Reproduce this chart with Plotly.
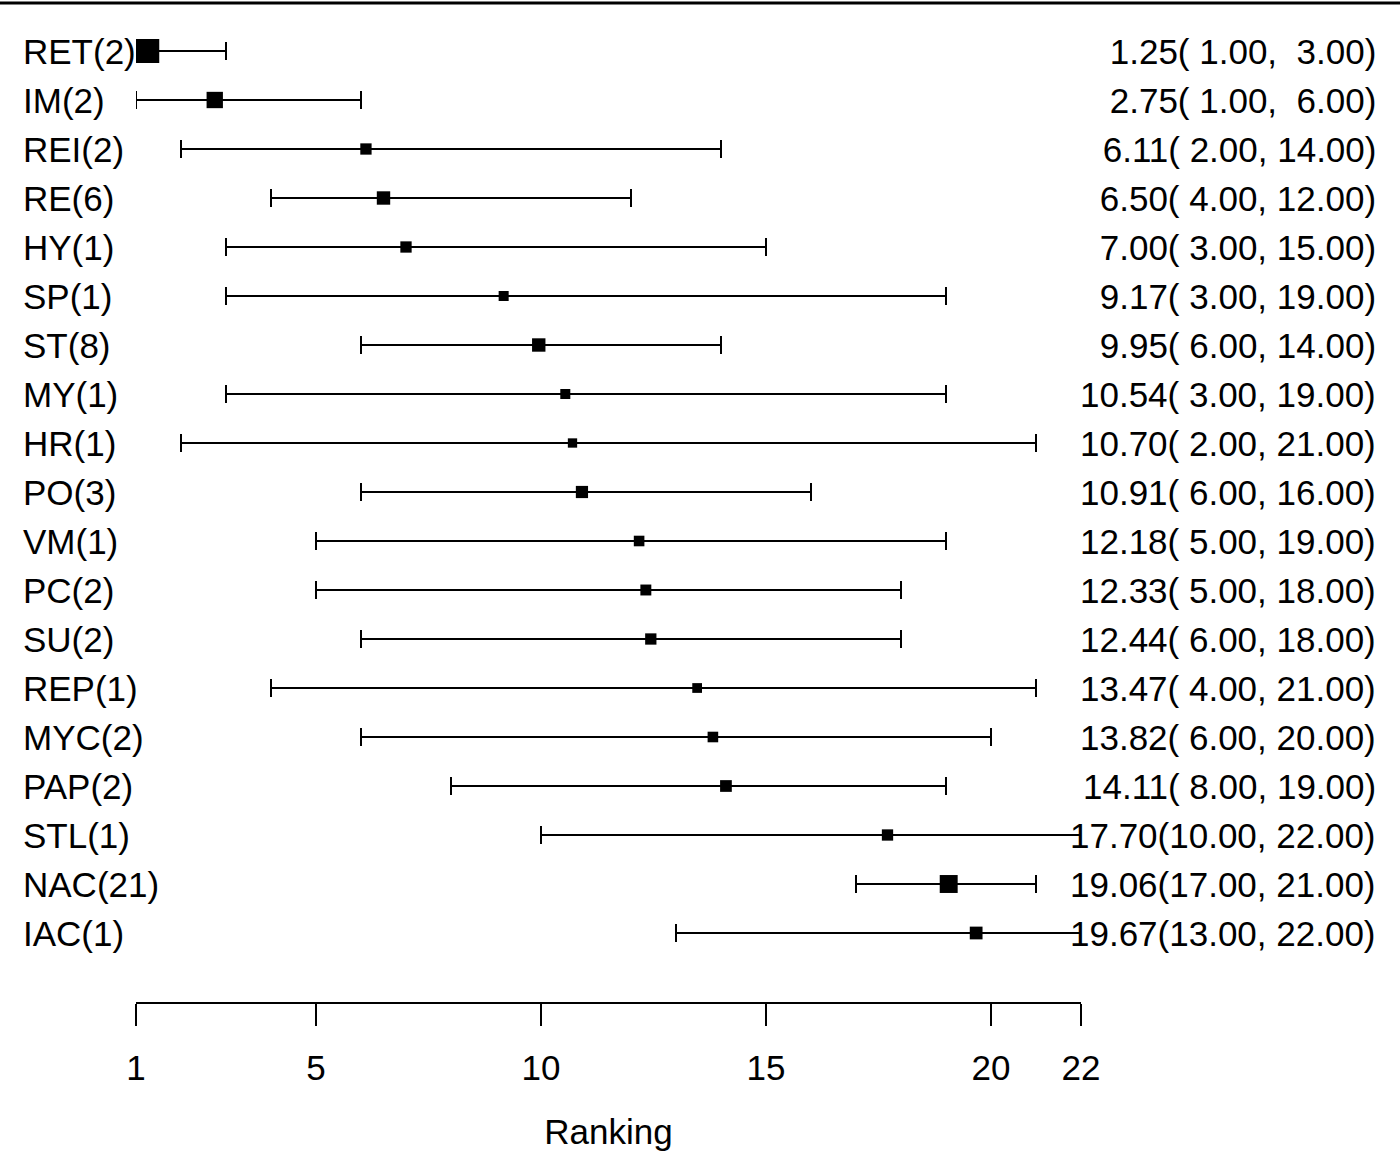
import plotly.graph_objects as go

labels = ["RET(2)", "IM(2)", "REI(2)", "RE(6)", "HY(1)", "SP(1)", "ST(8)", "MY(1)", "HR(1)",
          "PO(3)", "VM(1)", "PC(2)", "SU(2)", "REP(1)", "MYC(2)", "PAP(2)", "STL(1)", "NAC(21)", "IAC(1)"]
mean_rank = [1.25, 2.75, 6.11, 6.50, 7.00, 9.17, 9.95, 10.54, 10.70, 10.91, 12.18, 12.33, 12.44,
             13.47, 13.82, 14.11, 17.70, 19.06, 19.67]
lower = [1, 1, 2, 4, 3, 3, 6, 3, 2, 6, 5, 5, 6, 4, 6, 8, 10, 17, 13]
upper = [3, 6, 14, 12, 15, 19, 14, 19, 21, 16, 19, 18, 18, 21, 20, 19, 22, 21, 22]
tick_vals = [1, 5, 10, 15, 20, 22]

FONT = "Liberation Sans, Arial, Helvetica, sans-serif"
FS = 35
W, H = 1400, 1153

rows = list(range(len(labels)))
sizes = [24 * (2.0 / (u - l)) ** 0.42 for l, u in zip(lower, upper)]

def fmt(v):
    s = "%5.2f" % v
    return s.replace(" ", "\u00a0")

right_text = ["%s(%s, %s)" % (fmt(m), fmt(l), fmt(u)) for m, l, u in zip(mean_rank, lower, upper)]

fig = go.Figure()
fig.add_trace(go.Scatter(
    x=mean_rank, y=rows, mode="markers",
    marker=dict(symbol="square", size=sizes, color="#000000", opacity=1, line=dict(width=0)),
    error_x=dict(type="data", symmetric=False,
                 array=[u - m for u, m in zip(upper, mean_rank)],
                 arrayminus=[m - l for m, l in zip(mean_rank, lower)],
                 color="#000000", thickness=2, width=9),
    showlegend=False, hoverinfo="skip"))

for i, (lab, rt) in enumerate(zip(labels, right_text)):
    fig.add_annotation(x=21 / W, xref="paper", y=i, yref="y", text=lab, showarrow=False,
                       xanchor="left", yanchor="middle", font=dict(size=FS, color="black", family=FONT))
    fig.add_annotation(x=1378 / W, xref="paper", y=i, yref="y", text=rt, showarrow=False,
                       xanchor="right", yanchor="middle", font=dict(size=FS, color="black", family=FONT))

# top rule
fig.add_shape(type="line", xref="paper", yref="paper", x0=0, x1=1, y0=1 - 3 / H, y1=1 - 3 / H,
              line=dict(color="black", width=3))

y_bottom_px = 1002
row0_px, row_step = 51, 49.0
fig.update_layout(
    width=W, height=H, margin=dict(l=0, r=0, t=0, b=0),
    plot_bgcolor="white", paper_bgcolor="white",
    font=dict(family=FONT, size=FS, color="black"),
    xaxis=dict(domain=[136 / W, 1081 / W], range=[1, 22], tickvals=tick_vals,
               ticktext=[str(t) for t in tick_vals], ticks="outside", ticklen=22, tickwidth=2,
               tickcolor="black", showline=True, linewidth=2, linecolor="black", mirror=False,
               showgrid=False, zeroline=False, automargin=False, ticklabelstandoff=12,
               tickfont=dict(size=FS, family=FONT, color="black"),
               title=dict(text="Ranking", font=dict(size=FS, family=FONT, color="black"), standoff=33)),
    yaxis=dict(domain=[(H - y_bottom_px) / H, 1],
               range=[(y_bottom_px - row0_px) / row_step, -row0_px / row_step],
               visible=False, showgrid=False, zeroline=False, automargin=False),
)

fig.write_html("out.html", config={"displayModeBar": False},
               post_script="document.body.style.margin='0px';")
